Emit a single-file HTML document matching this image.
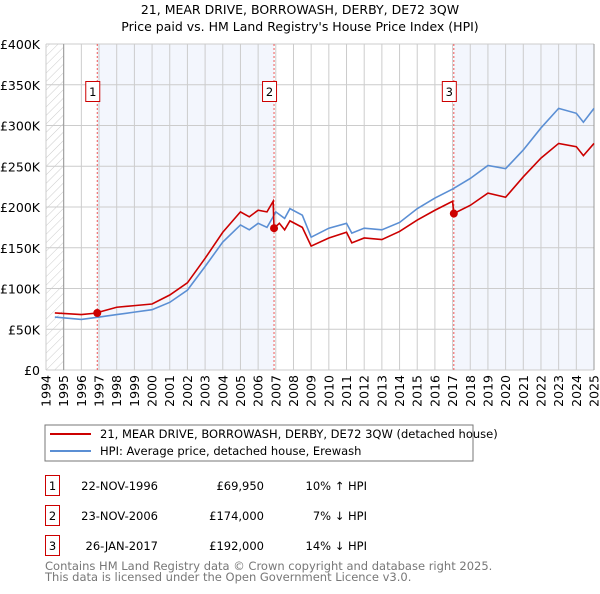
<!DOCTYPE html>
<html><head><meta charset="utf-8"><style>
body{margin:0;background:#fff;font-family:"DejaVu Sans","Liberation Sans",sans-serif;}
svg text{font-family:"DejaVu Sans","Liberation Sans",sans-serif;}
</style></head><body>
<svg id="c" width="600" height="590" xmlns="http://www.w3.org/2000/svg">
<defs><pattern id="hatch" width="6" height="6" patternUnits="userSpaceOnUse" patternTransform="rotate(45)"><line x1="0" y1="0" x2="0" y2="6" stroke="#ccc" stroke-width="1"/></pattern></defs>
<text x="300" y="14" text-anchor="middle" font-size="12.5">21, MEAR DRIVE, BORROWASH, DERBY, DE72 3QW</text>
<text x="300" y="31" text-anchor="middle" font-size="12.5">Price paid vs. HM Land Registry's House Price Index (HPI)</text>
<g id="plot"></g>
<rect x="45" y="425" width="428" height="36" fill="#fff" stroke="#777"/>
<line x1="50" y1="434" x2="91" y2="434" stroke="#cc0000" stroke-width="2"/>
<text x="100" y="438" font-size="11.5">21, MEAR DRIVE, BORROWASH, DERBY, DE72 3QW (detached house)</text>
<line x1="50" y1="451" x2="91" y2="451" stroke="#5b8fd4" stroke-width="2"/>
<text x="100" y="455" font-size="11.5">HPI: Average price, detached house, Erewash</text>
<g font-size="11.5">
<rect x="45.5" y="475.5" width="14" height="20" fill="#fff" stroke="#cc0000"/><text x="52.5" y="490" text-anchor="middle">1</text>
<text x="158" y="490" text-anchor="end">22-NOV-1996</text><text x="264" y="490" text-anchor="end">£69,950</text><text x="367" y="490" text-anchor="end">10% ↑ HPI</text>
<rect x="45.5" y="505.5" width="14" height="20" fill="#fff" stroke="#cc0000"/><text x="52.5" y="520" text-anchor="middle">2</text>
<text x="158" y="520" text-anchor="end">23-NOV-2006</text><text x="264" y="520" text-anchor="end">£174,000</text><text x="367" y="520" text-anchor="end">7% ↓ HPI</text>
<rect x="45.5" y="535.5" width="14" height="20" fill="#fff" stroke="#cc0000"/><text x="52.5" y="550" text-anchor="middle">3</text>
<text x="158" y="550" text-anchor="end">26-JAN-2017</text><text x="264" y="550" text-anchor="end">£192,000</text><text x="367" y="550" text-anchor="end">14% ↓ HPI</text>
</g>
<text x="45" y="570" font-size="11.5" fill="#777">Contains HM Land Registry data © Crown copyright and database right 2025.</text>
<text x="45" y="581" font-size="11.5" fill="#777">This data is licensed under the Open Government Licence v3.0.</text>
</svg>
<script>
const hpiYears=[1994.5,1996,1997,1998,1999,2000,2001,2002,2003,2004,2005,2005.5,2006,2006.5,2006.85,2007,2007.5,2007.8,2008.5,2009,2010,2011,2011.3,2012,2013,2014,2015,2016,2017,2018,2019,2020,2021,2022,2023,2024,2024.4,2025];
const hpiValues=[65,62,65,68,71,74,83,98,127,157,178,172,180,175,188,194,186,198,190,163,174,180,168,174,172,181,198,211,222,235,251,247,270,297,321,315,304,321];
const redYears=[1994.5,1996,1996.9,1997,1998,1999,2000,2001,2002,2003,2004,2005,2005.5,2006,2006.5,2006.85,2006.9,2007.2,2007.5,2007.8,2008.5,2009,2010,2011,2011.3,2012,2013,2014,2015,2016,2017.0,2017.07,2018,2019,2020,2021,2022,2023,2024,2024.4,2025];
const redValues=[70,68,69.95,71,77,79,81,92,107,137,169,194,188,196,194,207,174,180,172,183,175,152,162,169,156,162,160,170,184,196,207,192,202,217,212,237,260,278,274,263,278];
const saleYears=[1996.9,2006.9,2017.07];
const saleValues=[69.95,174,192];
const yTicks=[0,50,100,150,200,250,300,350,400];
const xTicks=[1994,1995,1996,1997,1998,1999,2000,2001,2002,2003,2004,2005,2006,2007,2008,2009,2010,2011,2012,2013,2014,2015,2016,2017,2018,2019,2020,2021,2022,2023,2024,2025];
const X=y=>46+(y-1994)*(548/31);
const Y=v=>370-v*0.815;
const NS="http://www.w3.org/2000/svg";
const g=document.getElementById('plot');
function mk(t,a){const e=document.createElementNS(NS,t);for(const k in a)e.setAttribute(k,a[k]);g.appendChild(e);return e;}
let e;
e=mk('rect',{x:X(1994),y:Y(400),width:X(1995)-X(1994),height:Y(0)-Y(400),fill:'url(#hatch)'});


e=mk('rect',{x:X(saleYears[0]),y:Y(400),width:X(saleYears[1])-X(saleYears[0]),height:Y(0)-Y(400),fill:'#f3f6fd'});


e=mk('rect',{x:X(saleYears[2]),y:Y(400),width:X(2025)-X(saleYears[2]),height:Y(0)-Y(400),fill:'#f3f6fd'});


yTicks.forEach(v=>{
 e=mk('line',{x1:X(1994),x2:X(2025),y1:Y(v),y2:Y(v),stroke:'#ccc'});
 
 
 e=mk('text',{x:40,y:Y(v)+5,'text-anchor':'end','font-size':'12.5'});
 e.textContent=v===0?'£0':'£'+v+'K';
 
 
});
xTicks.forEach(yr=>{
 e=mk('line',{x1:X(yr),x2:X(yr),y1:Y(400),y2:Y(0),stroke:'#ccc'});
 
 
 const tx=X(yr)+4.5;
 e=mk('text',{x:tx,y:375,'text-anchor':'end','font-size':'12.5',transform:'rotate(-90 '+tx+' 375)'});
 e.textContent=yr;
 
 
});
e=mk('line',{x1:X(1995),x2:X(1995),y1:Y(400),y2:Y(0),stroke:'#999'});


e=mk('line',{x1:X(2025),x2:X(2025),y1:Y(400),y2:Y(0),stroke:'#999'});


saleYears.forEach((yr,i)=>{
 e=mk('line',{x1:X(yr),x2:X(yr),y1:Y(400),y2:Y(0),stroke:'#e55','stroke-dasharray':'2,2'});
 
 
});
e=mk('polyline',{points:hpiYears.map((y,i)=>X(y)+','+Y(hpiValues[i])).join(' '),fill:'none',stroke:'#5b8fd4','stroke-width':1.6});


e=mk('polyline',{points:redYears.map((y,i)=>X(y)+','+Y(redValues[i])).join(' '),fill:'none',stroke:'#cc0000','stroke-width':1.6});


saleYears.forEach((yr,i)=>{
 e=mk('circle',{cx:X(yr),cy:Y(saleValues[i]),r:4,fill:'#cc0000'});
 
 
 e=mk('rect',{x:X(yr)-11.5,y:81.5,width:14,height:20,fill:'#fff',stroke:'#cc0000'});
 
 
 e=mk('text',{x:X(yr)-4.5,y:96,'text-anchor':'middle','font-size':'11.5'});
 e.textContent=String(i+1);
 
 
});
</script>
</body></html>
